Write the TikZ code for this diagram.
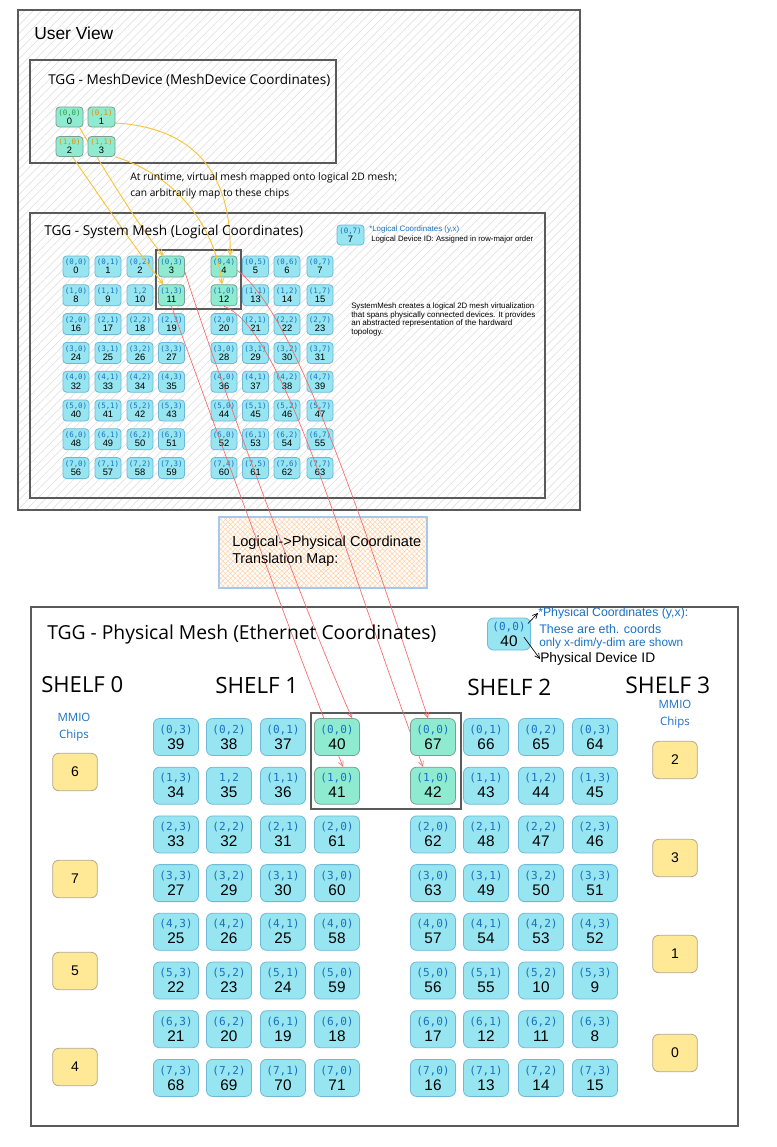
\documentclass[tikz,border=0pt]{standalone}
\usepackage{fontspec}
\setmainfont{Open Sans}
\newfontfamily\hand{Liberation Sans}
\newfontfamily\mono{DejaVu Sans Mono}
\usetikzlibrary{arrows.meta,patterns.meta}
\definecolor{cyanchip}{HTML}{96E5F0}
\definecolor{cyanborder}{HTML}{6CB9D8}
\definecolor{greenchip}{HTML}{8EEBD0}
\definecolor{greenborder}{HTML}{7A9E92}
\definecolor{yellowchip}{HTML}{FFE996}
\definecolor{yellowborder}{HTML}{B0A88F}
\definecolor{coordblue}{HTML}{1971C2}
\definecolor{framegray}{HTML}{5A5A5A}
\definecolor{redline}{HTML}{F46A6A}
\definecolor{yelline}{HTML}{FAC43A}
\definecolor{hatchgray}{HTML}{DCDCDC}
\definecolor{orangehatch}{HTML}{FFCFA3}
\definecolor{mapborder}{HTML}{A5C8EC}
\definecolor{ocoord}{HTML}{F08C00}
\definecolor{gcoord}{HTML}{2F9E44}
\newdimen\pxu \pxu=0.75pt
\newcommand\fitw[2]{\resizebox{#1\pxu}{!}{#2}}
\newcommand\lcd[2][coordblue]{{\mono\fontsize{5.6pt}{6.8pt}\selectfont\color{#1}#2}}
\newcommand\lid[1]{{\hand\fontsize{7pt}{6.8pt}\selectfont #1}}
\newcommand\pcd[1]{{\mono\fontsize{8.3pt}{12pt}\selectfont\color{coordblue}#1}}
\newcommand\pid[1]{{\hand\fontsize{11.5pt}{12pt}\selectfont #1}}
\newcommand\yid[1]{{\hand\fontsize{10.5pt}{12pt}\selectfont #1}}
\pgfdeclarelayer{bg}
\pgfdeclarelayer{lchips}
\pgfdeclarelayer{lines}
\pgfsetlayers{bg,lchips,lines,main}
\tikzset{
  chipbase/.style={rounded corners=2.6pt, draw, line width=0.6pt, inner sep=0pt, align=center},
  lchip/.style={chipbase, fill=cyanchip, draw=cyanborder, minimum width=19.5pt, minimum height=15.75pt,
     font=\fontsize{5.6pt}{6.8pt}\selectfont},
  mchip/.style={lchip, fill=greenchip, draw=greenborder, minimum width=20.25pt, minimum height=15pt},
  pchip/.style={chipbase, rounded corners=4.5pt, fill=cyanchip, draw=cyanborder, minimum width=33.75pt, minimum height=27.75pt,
     font=\fontsize{8pt}{12pt}\selectfont},
  ychip/.style={chipbase, rounded corners=4.5pt, fill=yellowchip, draw=yellowborder, minimum width=33.5pt, minimum height=28pt},
  frame/.style={draw=framegray, line width=1.1pt},
  thinframe/.style={draw=framegray, line width=0.9pt},
  txt/.style={inner sep=0pt, anchor=west},
  redarrow/.style={draw=redline, line width=0.5pt, -{Straight Barb[length=3.75pt,width=3.75pt]}},
  yelarrow/.style={draw=yelline, line width=0.7pt, -{Straight Barb[length=3.75pt,width=3.75pt]}},
  legarrow/.style={draw=black, line width=0.5pt, -{Straight Barb[length=3.75pt,width=3.75pt]}},
  mmio/.style={inner sep=0pt, align=center, text=coordblue, font=\fontsize{8.6pt}{13pt}\selectfont},
}
\begin{document}
\begin{tikzpicture}[x=0.75pt,y=-0.75pt]
\useasboundingbox (0,0) rectangle (777,1147);
\begin{pgfonlayer}{bg}
  \fill[white] (0,0) rectangle (777,1147);
  \path[pattern={Lines[angle=45,distance=4.5pt,line width=0.4pt]}, pattern color=hatchgray] (18,10) rectangle (580,510);
  \draw[frame] (18,10) rectangle (580,510);
  \draw[frame] (30,60) rectangle (336,163);
  \draw[frame] (30,213) rectangle (545,498);
  \draw[thinframe] (156,250) rectangle (241,309);
  \draw[frame] (31,607) rectangle (738,1126);
  \draw[thinframe] (311,713) rectangle (461,809);
\end{pgfonlayer}

% ---------- User View texts ----------
\node[txt] (uvt) at (34,33) {\fitw{79}{\hand User View}};
\node[txt] (mdt) at (48,80) {\fitw{282}{TGG - MeshDevice (MeshDevice Coordinates)}};
\node[txt] (rt1) at (130,178) {\fitw{267}{At runtime, virtual mesh mapped onto logical 2D mesh;}};
\node[txt] (rt2) at (130,194) {\fitw{159}{can arbitrarily map to these chips}};
\node[txt] (smt) at (44,232) {\fitw{259}{TGG - System Mesh (Logical Coordinates)}};

% ---------- MeshDevice chips ----------
\node[mchip] (M0) at (69.5,117) {\lcd[gcoord]{(0,0)}\\\lid{0}};
\node[mchip] (M1) at (101.5,117) {\lcd[ocoord]{(0,1)}\\\lid{1}};
\node[mchip] (M2) at (69.5,146.5) {\lcd[ocoord]{(1,0)}\\\lid{2}};
\node[mchip] (M3) at (101.5,146.5) {\lcd[ocoord]{(1,1)}\\\lid{3}};

% ---------- Logical mesh ----------
\begin{pgfonlayer}{lchips}
\foreach \r in {0,...,7}{
  \foreach \c in {0,...,7}{
    \pgfmathtruncatemacro\id{8*\r+\c}
    \pgfmathsetmacro\xx{{76,108,140,171.5,224,255.5,287,320}[\c]}
    \pgfmathsetmacro\yy{266.5+28.8*\r}
    \pgfmathtruncatemacro\lab{(\c<4 || \c==7 || \r==0 || \r==7) ? \c : \c-4}
    \def\fc{cyanchip}\def\bc{cyanborder}
    \def\gr{\def\fc{greenchip}\def\bc{greenborder}}
    \ifnum\id=3 \gr\fi
    \ifnum\id=4 \gr\fi
    \ifnum\id=11 \gr\fi
    \ifnum\id=12 \gr\fi
    \node[lchip, fill=\fc, draw=\bc] (L\id) at (\xx,\yy) {\lcd{\ifnum\id=10 1,2\else(\r,\lab)\fi}\\\lid{\id}};
  }
}
\end{pgfonlayer}

% logical legend
\node[lchip, minimum width=20.25pt, minimum height=15pt] (lleg) at (350.5,235) {\lcd{(0,7)}\\\lid{7}};
\node[txt, text=coordblue] (ll1) at (369,229) {\fitw{90}{\hand *Logical Coordinates (y,x)}};
\node[txt] (ll2) at (371,239) {\fitw{162}{\hand Logical Device ID: Assigned in row-major order}};
\node[txt] (ds1) at (351,306) {\fitw{183}{\hand SystemMesh creates a logical 2D mesh virtualization}};
\node[txt] (ds2) at (351,315) {\fitw{184}{\hand that spans physically connected devices. It provides}};
\node[txt] (ds3) at (351,323.5) {\fitw{161}{\hand an abstracted representation of the hardward}};
\node[txt] (ds4) at (351,332) {\fitw{32}{\hand topology.}};

% ---------- translation map ----------
\begin{pgfonlayer}{bg}
  \path[pattern={Hatch[angle=45,distance=2.6pt,line width=0.35pt]}, pattern color=orangehatch] (219,517) rectangle (427,588);
  \draw[draw=mapborder, line width=0.8pt] (219,517) rectangle (427,588);
\end{pgfonlayer}
\node[txt] (tm1) at (232,543) {\fitw{189}{\hand Logical->Physical Coordinate}};
\node[txt] (tm2) at (232,560) {\fitw{106}{\hand Translation Map:}};

% ---------- Physical mesh ----------
\node[txt] (pmt) at (47,634) {\fitw{389}{TGG - Physical Mesh (Ethernet Coordinates)}};
\node[txt] (sh0) at (41,685) {\fitw{82}{SHELF 0}};
\node[txt] (sh1) at (215,685) {\fitw{83}{SHELF 1}};
\node[txt] (sh2) at (467,687) {\fitw{84}{SHELF 2}};
\node[txt] (sh3) at (625,685) {\fitw{85}{SHELF 3}};
\node[mmio] (mm0) at (74,727) {MMIO\\Chips};
\node[mmio] (mm3) at (675,714) {MMIO\\Chips};

\foreach \r/\a/\b/\cc/\d/\e/\f/\g/\h in {0/39/38/37/40/67/66/65/64,1/34/35/36/41/42/43/44/45,2/33/32/31/61/62/48/47/46,3/27/29/30/60/63/49/50/51,4/25/26/25/58/57/54/53/52,5/22/23/24/59/56/55/10/9,6/21/20/19/18/17/12/11/8,7/68/69/70/71/16/13/14/15}{
  \pgfmathsetmacro\yy{737+48.7*\r}
  \ifnum\r<2 \def\fc{greenchip}\def\bc{greenborder}\else\def\fc{cyanchip}\def\bc{cyanborder}\fi
  \node[pchip] (Pa\r) at (176,\yy) {\pcd{(\r,3)}\\\pid{\a}};
  \node[pchip] (Pb\r) at (229,\yy) {\pcd{\ifnum\r=1 1,2\else(\r,2)\fi}\\\pid{\b}};
  \node[pchip] (Pc\r) at (283,\yy) {\pcd{(\r,1)}\\\pid{\cc}};
  \node[pchip, fill=\fc, draw=\bc] (Pd\r) at (337,\yy) {\pcd{(\r,0)}\\\pid{\d}};
  \node[pchip, fill=\fc, draw=\bc] (Pe\r) at (433,\yy) {\pcd{(\r,0)}\\\pid{\e}};
  \node[pchip] (Pf\r) at (486,\yy) {\pcd{(\r,1)}\\\pid{\f}};
  \node[pchip] (Pg\r) at (541,\yy) {\pcd{(\r,2)}\\\pid{\g}};
  \node[pchip] (Ph\r) at (595,\yy) {\pcd{(\r,3)}\\\pid{\h}};
}

% MMIO chips
\node[ychip] (S0a) at (75,772) {\yid{6}};
\node[ychip] (S0b) at (75,879) {\yid{7}};
\node[ychip] (S0c) at (75,971) {\yid{5}};
\node[ychip] (S0d) at (75,1067) {\yid{4}};
\node[ychip] (S3a) at (675,760) {\yid{2}};
\node[ychip] (S3b) at (675,858) {\yid{3}};
\node[ychip] (S3c) at (675,954) {\yid{1}};
\node[ychip] (S3d) at (675,1053) {\yid{0}};

% physical legend
\node[pchip, minimum width=32.25pt, minimum height=24pt] (leg) at (509,634) {\pcd{(0,0)}\\\pid{40}};
\node[txt, text=coordblue] (pl1) at (538,613) {\fitw{150}{\hand *Physical Coordinates (y,x):}};
\node[txt, text=coordblue] (pl2) at (539,629) {\fitw{122}{\hand These are eth. coords}};
\node[txt, text=coordblue] (pl3) at (539,643) {\fitw{144}{\hand only x-dim/y-dim are shown}};
\node[txt] (plid) at (540,659) {\fitw{115}{\hand Physical Device ID}};
\draw[legarrow] ([xshift=-2.25pt,yshift=-4.5pt]leg.north east) -- (pl1.west);
\draw[legarrow] ([xshift=-5.25pt,yshift=-2.25pt]leg.east) -- (plid.west);

% ---------- connectors ----------
\begin{pgfonlayer}{lines}
\draw[redarrow] ([yshift=-4pt]L3.east) .. controls (214,365) and (300,600) .. ([xshift=11.25pt]Pd0.north);
\draw[redarrow] (L11.south) .. controls (205,400) and (300,660) .. ([xshift=4.5pt]Pd1.north);
\draw[redarrow] ([yshift=-3pt]L4.east) .. controls (290,310) and (350,480) .. ([xshift=-3.75pt]Pe0.north);
\draw[redarrow] (L12.south) .. controls (285,330) and (345,560) .. ([xshift=-7.5pt]Pe1.north);
\draw[yelarrow] ([xshift=7.5pt]M0.south) .. controls (110,180) and (145,235) .. ([xshift=-6pt]L3.north);
\draw[yelarrow] ([xshift=2.25pt]M2.south) .. controls (95,190) and (140,255) .. ([xshift=-6pt]L11.north);
\draw[yelarrow] (M3.south east) .. controls (175,175) and (215,225) .. ([xshift=-1.5pt]L12.north);
\draw[yelarrow] ([yshift=-4.5pt]M1.east) .. controls (200,128) and (232,180) .. ([xshift=4.5pt]L4.north);
\end{pgfonlayer}
\end{tikzpicture}
\end{document}
